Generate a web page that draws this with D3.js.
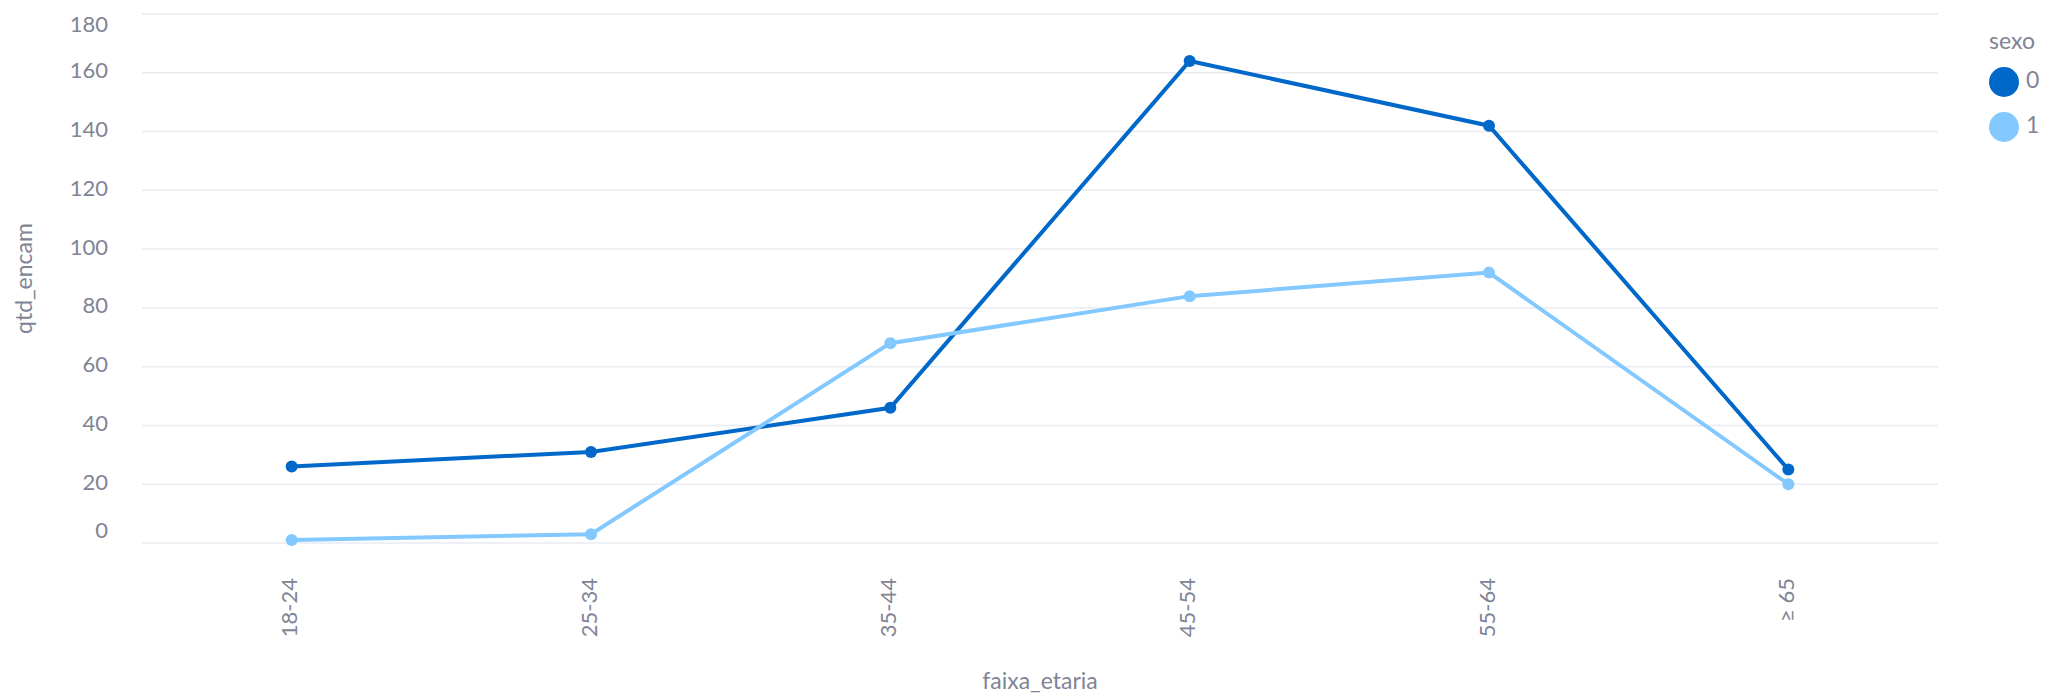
<!DOCTYPE html>
<html>
<head>
<meta charset="utf-8">
<script src="https://cdn.jsdelivr.net/npm/d3@7"></script>
<style>
  body { margin: 0; background: #fff; }
  text { font-family: Lato, "Open Sans", sans-serif; fill: #808495; }
</style>
</head>
<body>
<div id="chart"></div>
<script>
// Age groups on the x axis
const faixas = ["18-24", "25-34", "35-44", "45-54", "55-64", "≥ 65"];
// qtd_encam per sexo
const sexo0 = [26, 31, 46, 164, 142, 25];
const sexo1 = [1, 3, 68, 84, 92, 20];
const yTicks = [0, 20, 40, 60, 80, 100, 120, 140, 160, 180];

const series = [
    { key: "0", values: sexo0, color: "#0068c9" },
    { key: "1", values: sexo1, color: "#83c9ff" }
];

const width = 2051, height = 697;
const margin = { top: 14, right: 113, bottom: 154, left: 142 };

const svg = d3.select("#chart").append("svg")
    .attr("width", width)
    .attr("height", height);

const x = d3.scalePoint()
    .domain(faixas)
    .range([margin.left, width - margin.right])
    .padding(0.5);

const y = d3.scaleLinear()
    .domain([0, 180])
    .range([height - margin.bottom, margin.top]);

// gridlines
svg.append("g")
    .selectAll("line")
    .data(yTicks)
    .enter().append("line")
    .attr("x1", margin.left)
    .attr("x2", width - margin.right)
    .attr("y1", d => y(d))
    .attr("y2", d => y(d))
    .attr("stroke", "#e9ebf2")
    .attr("stroke-width", 1.5);

// y tick labels (first/last flushed like vega)
svg.append("g")
    .selectAll("text")
    .data(yTicks)
    .enter().append("text")
    .attr("x", 108)
    .attr("y", d => d === 180 ? y(d) - 4 : y(d))
    .attr("text-anchor", "end")
    .attr("dominant-baseline", d => d === 0 ? "text-after-edge" : (d === 180 ? "text-before-edge" : "middle"))
    .style("font-size", "22px")
    .text(d => d);

// x tick labels, rotated
svg.append("g")
    .selectAll("text")
    .data(faixas)
    .enter().append("text")
    .attr("transform", d => `translate(${x(d)}, ${y(0) + 35}) rotate(-90)`)
    .attr("text-anchor", "end")
    .attr("dominant-baseline", "middle")
    .style("font-size", "22px")
    .text(d => d);

// axis titles
svg.append("text")
    .attr("transform", `translate(26, ${(y(0) + y(180)) / 2}) rotate(-90)`)
    .attr("text-anchor", "middle")
    .attr("dominant-baseline", "middle")
    .style("font-size", "23px")
    .text("qtd_encam");

svg.append("text")
    .attr("x", (margin.left + width - margin.right) / 2)
    .attr("y", 683)
    .attr("text-anchor", "middle")
    .attr("dominant-baseline", "middle")
    .style("font-size", "23px")
    .text("faixa_etaria");

// lines + points
const line = d3.line()
    .x((d, i) => x(faixas[i]))
    .y(d => y(d));

series.forEach(s => {
    svg.append("path")
        .datum(s.values)
        .attr("fill", "none")
        .attr("stroke", s.color)
        .attr("stroke-width", 4)
        .attr("d", line);

    svg.append("g")
        .selectAll("circle")
        .data(s.values)
        .enter().append("circle")
        .attr("cx", (d, i) => x(faixas[i]))
        .attr("cy", d => y(d))
        .attr("r", 6)
        .attr("fill", s.color);
});

// legend
const legend = svg.append("g").attr("transform", "translate(1989, 0)");
legend.append("text")
    .attr("x", 0)
    .attr("y", 43)
    .attr("dominant-baseline", "middle")
    .style("font-size", "23px")
    .text("sexo");

const item = legend.selectAll("g.item")
    .data(series)
    .enter().append("g")
    .attr("class", "item")
    .attr("transform", (d, i) => `translate(0, ${82 + i * 45})`);

item.append("circle")
    .attr("cx", 15)
    .attr("cy", 0)
    .attr("r", 15)
    .attr("fill", d => d.color);

item.append("text")
    .attr("x", 37)
    .attr("y", 0)
    .attr("dominant-baseline", "middle")
    .style("font-size", "23px")
    .text(d => d.key);
</script>
</body>
</html>
